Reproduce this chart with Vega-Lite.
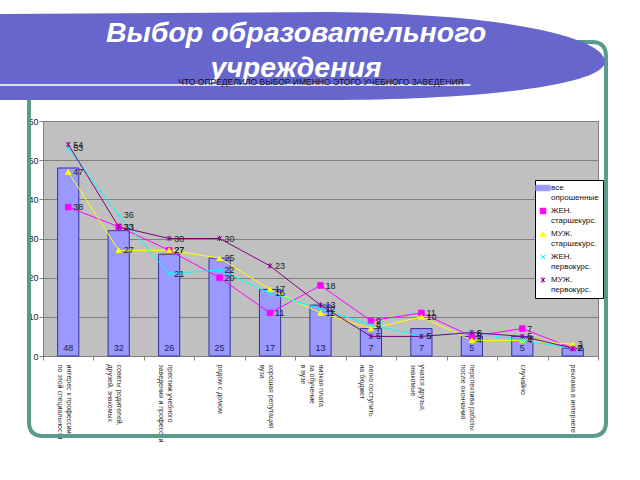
{
  "$schema": "https://vega.github.io/schema/vega-lite/v6.json",
  "width": 555,
  "height": 235,
  "autosize": {"type": "none"},
  "padding": {"left": 43, "top": 121, "right": 42, "bottom": 124},
  "background": "white",
  "data": {
    "values": [
      {"cat": "интерес к профессии\nпо этой специальности", "series": "все опрошенные", "value": 48},
      {"cat": "интерес к профессии\nпо этой специальности", "series": "ЖЕН. старшекурс.", "value": 38},
      {"cat": "интерес к профессии\nпо этой специальности", "series": "МУЖ. старшекурс.", "value": 47},
      {"cat": "интерес к профессии\nпо этой специальности", "series": "ЖЕН. первокурс.", "value": 53},
      {"cat": "интерес к профессии\nпо этой специальности", "series": "МУЖ. первокурс.", "value": 54},
      {"cat": "советы родителей,\nдрузей, знакомых", "series": "все опрошенные", "value": 32},
      {"cat": "советы родителей,\nдрузей, знакомых", "series": "ЖЕН. старшекурс.", "value": 33},
      {"cat": "советы родителей,\nдрузей, знакомых", "series": "МУЖ. старшекурс.", "value": 27},
      {"cat": "советы родителей,\nдрузей, знакомых", "series": "ЖЕН. первокурс.", "value": 36},
      {"cat": "советы родителей,\nдрузей, знакомых", "series": "МУЖ. первокурс.", "value": 33},
      {"cat": "престиж учебного\nзаведения и профессии", "series": "все опрошенные", "value": 26},
      {"cat": "престиж учебного\nзаведения и профессии", "series": "ЖЕН. старшекурс.", "value": 27},
      {"cat": "престиж учебного\nзаведения и профессии", "series": "МУЖ. старшекурс.", "value": 27},
      {"cat": "престиж учебного\nзаведения и профессии", "series": "ЖЕН. первокурс.", "value": 21},
      {"cat": "престиж учебного\nзаведения и профессии", "series": "МУЖ. первокурс.", "value": 30},
      {"cat": "рядом с домом", "series": "все опрошенные", "value": 25},
      {"cat": "рядом с домом", "series": "ЖЕН. старшекурс.", "value": 20},
      {"cat": "рядом с домом", "series": "МУЖ. старшекурс.", "value": 25},
      {"cat": "рядом с домом", "series": "ЖЕН. первокурс.", "value": 22},
      {"cat": "рядом с домом", "series": "МУЖ. первокурс.", "value": 30},
      {"cat": "хорошая репутация\nвуза", "series": "все опрошенные", "value": 17},
      {"cat": "хорошая репутация\nвуза", "series": "ЖЕН. старшекурс.", "value": 11},
      {"cat": "хорошая репутация\nвуза", "series": "МУЖ. старшекурс.", "value": 17},
      {"cat": "хорошая репутация\nвуза", "series": "ЖЕН. первокурс.", "value": 16},
      {"cat": "хорошая репутация\nвуза", "series": "МУЖ. первокурс.", "value": 23},
      {"cat": "низкая плата\nза обучение\nв вузе", "series": "все опрошенные", "value": 13},
      {"cat": "низкая плата\nза обучение\nв вузе", "series": "ЖЕН. старшекурс.", "value": 18},
      {"cat": "низкая плата\nза обучение\nв вузе", "series": "МУЖ. старшекурс.", "value": 11},
      {"cat": "низкая плата\nза обучение\nв вузе", "series": "ЖЕН. первокурс.", "value": 12},
      {"cat": "низкая плата\nза обучение\nв вузе", "series": "МУЖ. первокурс.", "value": 13},
      {"cat": "легко поступить\nна бюджет", "series": "все опрошенные", "value": 7},
      {"cat": "легко поступить\nна бюджет", "series": "ЖЕН. старшекурс.", "value": 9},
      {"cat": "легко поступить\nна бюджет", "series": "МУЖ. старшекурс.", "value": 7},
      {"cat": "легко поступить\nна бюджет", "series": "ЖЕН. первокурс.", "value": 8},
      {"cat": "легко поступить\nна бюджет", "series": "МУЖ. первокурс.", "value": 5},
      {"cat": "учатся друзья,\nзнакомые", "series": "все опрошенные", "value": 7},
      {"cat": "учатся друзья,\nзнакомые", "series": "ЖЕН. старшекурс.", "value": 11},
      {"cat": "учатся друзья,\nзнакомые", "series": "МУЖ. старшекурс.", "value": 10},
      {"cat": "учатся друзья,\nзнакомые", "series": "ЖЕН. первокурс.", "value": 5},
      {"cat": "учатся друзья,\nзнакомые", "series": "МУЖ. первокурс.", "value": 5},
      {"cat": "перспектива работы\nпосле окончания", "series": "все опрошенные", "value": 5},
      {"cat": "перспектива работы\nпосле окончания", "series": "ЖЕН. старшекурс.", "value": 5},
      {"cat": "перспектива работы\nпосле окончания", "series": "МУЖ. старшекурс.", "value": 4},
      {"cat": "перспектива работы\nпосле окончания", "series": "ЖЕН. первокурс.", "value": 6},
      {"cat": "перспектива работы\nпосле окончания", "series": "МУЖ. первокурс.", "value": 6},
      {"cat": "случайно", "series": "все опрошенные", "value": 5},
      {"cat": "случайно", "series": "ЖЕН. старшекурс.", "value": 7},
      {"cat": "случайно", "series": "МУЖ. старшекурс.", "value": 4},
      {"cat": "случайно", "series": "ЖЕН. первокурс.", "value": 4},
      {"cat": "случайно", "series": "МУЖ. первокурс.", "value": 5},
      {"cat": "реклама в интернете", "series": "все опрошенные", "value": 2},
      {"cat": "реклама в интернете", "series": "ЖЕН. старшекурс.", "value": 2},
      {"cat": "реклама в интернете", "series": "МУЖ. старшекурс.", "value": 3},
      {"cat": "реклама в интернете", "series": "ЖЕН. первокурс.", "value": 2},
      {"cat": "реклама в интернете", "series": "МУЖ. первокурс.", "value": 2}
    ]
  },
  "layer": [
    {
      "data": {"values": [{"decor": "frame"}]},
      "mark": {
        "type": "point",
        "shape": "M -277.5 -196.5 L 271.5 -196.5 Q 285.5 -196.5 285.5 -182.5 L 285.5 183.5 Q 285.5 197.5 271.5 197.5 L -277.5 197.5 Q -291.5 197.5 -291.5 183.5 L -291.5 -182.5 Q -291.5 -196.5 -277.5 -196.5 Z",
        "size": 4,
        "filled": false,
        "stroke": "#5b9a8d",
        "strokeWidth": 4,
        "opacity": 1
      },
      "encoding": {}
    },
    {
      "data": {"values": [{"decor": "banner"}]},
      "mark": {
        "type": "point",
        "shape": "M -335 -224.5 L 9.5 -226.5 C 199.5 -224.5 285.5 -198.5 284.5 -176.5 C 283.5 -153.5 159.5 -138.5 9.5 -138.5 L -335 -138.5 Z",
        "size": 4,
        "filled": true,
        "fill": "#6666cc",
        "strokeWidth": 0,
        "opacity": 1
      },
      "encoding": {}
    },
    {
      "data": {"values": [{"decor": "highlight"}]},
      "mark": {
        "type": "point",
        "shape": "M -325 -153.5 L 150 -153.5",
        "size": 4,
        "filled": false,
        "stroke": "#dcdcf2",
        "strokeWidth": 2,
        "opacity": 1
      },
      "encoding": {}
    },
    {
      "data": {"values": [{"decor": "heading"}]},
      "mark": {
        "type": "text",
        "text": ["Выбор образовательного", "учреждения"],
        "font": "Liberation Sans",
        "fontSize": 28.5,
        "fontStyle": "italic",
        "fontWeight": "bold",
        "color": "white",
        "align": "center",
        "baseline": "middle",
        "lineHeight": 35,
        "dx": -24.5,
        "dy": -205.5
      },
      "encoding": {}
    },
    {
      "encoding": {
        "x": {
          "field": "cat",
          "type": "nominal",
          "sort": null,
          "scale": {"paddingInner": 0, "paddingOuter": 0},
          "axis": null
        },
        "y": {
          "field": "value",
          "type": "quantitative",
          "scale": {"domain": [0, 60], "nice": false},
          "axis": {
            "title": null,
            "values": [0, 10, 20, 30, 40, 50, 60],
            "labelFontSize": 9,
            "labelColor": "#222222",
            "labelFont": "Liberation Sans",
            "labelPadding": 1,
            "tickColor": "#808080",
            "tickSize": 4,
            "domain": false,
            "gridColor": "#808080",
            "gridWidth": 1,
            "gridOpacity": 1
          }
        }
      },
      "resolve": {"axis": {"x": "independent"}},
      "layer": [
        {
          "transform": [{"filter": "datum.series === 'все опрошенные'"}],
          "mark": {"type": "bar", "width": {"band": 0.42}, "stroke": "#333399", "strokeWidth": 1, "opacity": 1},
          "encoding": {
            "x": {
              "field": "cat",
              "type": "nominal",
              "sort": null,
              "axis": {
                "title": null,
                "labelAngle": 90,
                "labelFontSize": 7,
                "labelColor": "#333333",
                "labelFont": "Liberation Sans",
                "labelExpr": "split(datum.label, '\\n')",
                "labelPadding": 4,
                "tickBand": "extent",
                "tickColor": "#808080",
                "tickSize": 4,
                "domain": false,
                "labelOverlap": false
              }
            },
            "color": {
              "field": "series",
              "type": "nominal",
              "scale": {
                "domain": ["все опрошенные", "ЖЕН. старшекурс.", "МУЖ. старшекурс.", "ЖЕН. первокурс.", "МУЖ. первокурс."],
                "range": ["#9999ff", "#ff00ff", "#ffff00", "#00ffff", "#800080"]
              },
              "legend": {
                "orient": "none",
                "legendX": 492,
                "legendY": 59,
                "title": null,
                "fillColor": "white",
                "strokeColor": "#000000",
                "padding": 4,
                "labelFontSize": 8,
                "labelFont": "Liberation Sans",
                "labelColor": "#111111",
                "labelExpr": "split(datum.label, ' ')",
                "rowPadding": 4,
                "symbolSize": 30,
                "symbolStrokeWidth": 1,
                "labelOffset": 4
              }
            }
          }
        },
        {
          "transform": [{"filter": "datum.series === 'все опрошенные'"}],
          "mark": {"type": "text", "fontSize": 9, "font": "Liberation Sans", "color": "#1c1c50", "baseline": "middle", "dy": -8},
          "encoding": {
            "x": {
              "field": "cat",
              "type": "nominal",
              "sort": null,
              "axis": {
                "orient": "top",
                "title": "ЧТО ОПРЕДЕЛИЛО ВЫБОР ИМЕННО ЭТОГО УЧЕБНОГО ЗАВЕДЕНИЯ",
                "titleFontSize": 8.5,
                "titleFontWeight": "normal",
                "titleFont": "Liberation Sans",
                "titleColor": "#111111",
                "titlePadding": 35,
                "labels": false,
                "ticks": false,
                "domain": false,
                "grid": false,
                "zindex": 2
              }
            },
            "y": {"datum": 0},
            "text": {"field": "value", "type": "quantitative"}
          }
        },
        {
          "transform": [{"filter": "datum.series !== 'все опрошенные'"}],
          "mark": {"type": "line", "strokeWidth": 1},
          "encoding": {
            "color": {"field": "series", "type": "nominal"}
          }
        },
        {
          "transform": [{"filter": "datum.series !== 'все опрошенные'"}],
          "mark": {"type": "point", "filled": true, "size": 30, "opacity": 1, "strokeWidth": 1},
          "encoding": {
            "color": {"field": "series", "type": "nominal"},
            "shape": {
              "field": "series",
              "type": "nominal",
              "scale": {
                "domain": ["все опрошенные", "ЖЕН. старшекурс.", "МУЖ. старшекурс.", "ЖЕН. первокурс.", "МУЖ. первокурс."],
                "range": [
                  "M -2.6 -1 L 2.6 -1 L 2.6 1 L -2.6 1 Z",
                  "square",
                  "triangle-up",
                  "M -0.8 -0.8 L 0.8 0.8 M -0.8 0.8 L 0.8 -0.8",
                  "M -0.8 -0.8 L 0.8 0.8 M -0.8 0.8 L 0.8 -0.8 M 0 -1 L 0 1"
                ]
              }
            },
            "stroke": {
              "field": "series",
              "type": "nominal",
              "scale": {
                "domain": ["все опрошенные", "ЖЕН. старшекурс.", "МУЖ. старшекурс.", "ЖЕН. первокурс.", "МУЖ. первокурс."],
                "range": ["#333399", "#ff00ff", "#ffff00", "#00ffff", "#800080"]
              }
            }
          }
        },
        {
          "transform": [{"filter": "datum.series !== 'все опрошенные'"}],
          "mark": {"type": "text", "fontSize": 9, "font": "Liberation Sans", "color": "#222222", "align": "left", "baseline": "middle", "dx": 5},
          "encoding": {
            "text": {"field": "value", "type": "quantitative"}
          }
        }
      ]
    }
  ],
  "config": {
    "font": "Liberation Sans",
    "view": {"fill": "#c0c0c0", "stroke": "#808080", "strokeWidth": 1}
  }
}
